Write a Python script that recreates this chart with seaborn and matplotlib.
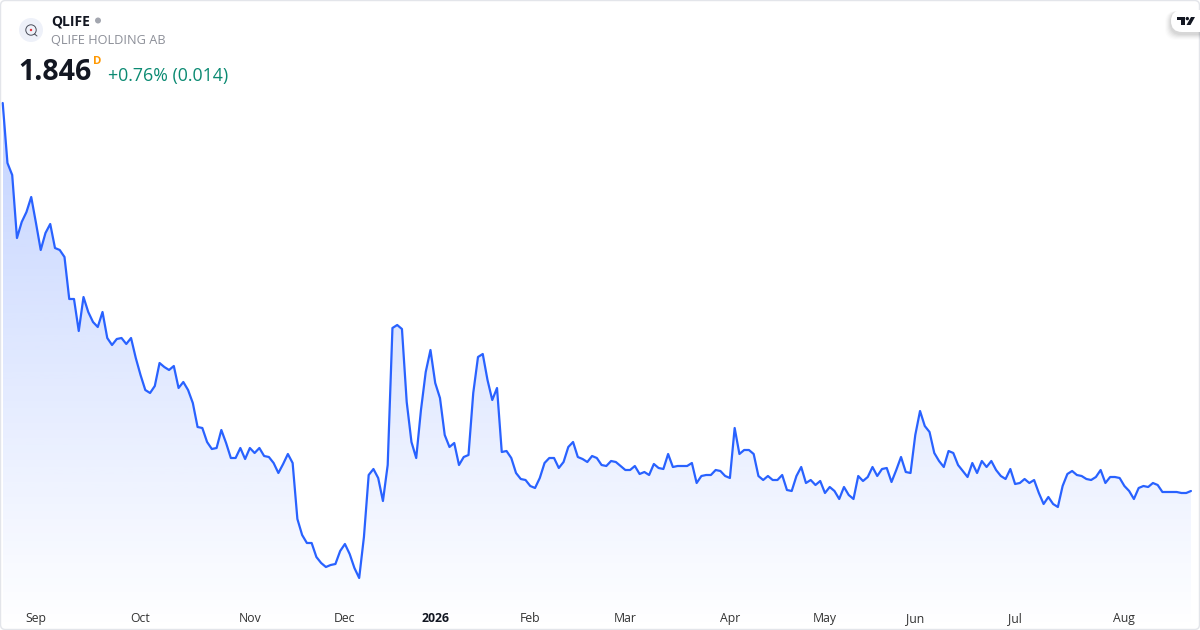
import numpy as np
import pandas as pd
import seaborn as sns
import matplotlib
matplotlib.use("Agg")
import matplotlib.pyplot as plt
from matplotlib.patches import Circle, FancyBboxPatch, Polygon

closes = [
5.726,5.126,5.006,4.376,4.536,4.636,4.786,4.526,4.256,4.426,4.516,4.276,4.256,4.186,3.766,3.766,3.446,3.786,3.636,3.536,
3.486,3.636,3.376,3.306,3.366,3.376,3.316,3.376,3.176,3.006,2.856,2.826,2.896,3.126,3.086,3.056,3.096,2.876,2.936,2.856,
2.726,2.486,2.476,2.336,2.266,2.276,2.456,2.326,2.176,2.176,2.276,2.166,2.276,2.226,2.276,2.196,2.186,2.126,2.026,2.116,
2.216,2.126,1.566,1.406,1.326,1.326,1.186,1.126,1.086,1.106,1.116,1.246,1.316,1.216,1.076,0.976,1.386,2.006,2.066,1.976,
1.746,2.106,3.476,3.506,3.466,2.736,2.336,2.176,2.656,3.036,3.256,2.926,2.776,2.406,2.286,2.326,2.106,2.186,2.206,2.826,
3.186,3.216,2.956,2.756,2.876,2.236,2.246,2.176,2.026,1.966,1.956,1.896,1.876,1.976,2.126,2.176,2.176,2.076,2.136,2.286,
2.336,2.186,2.166,2.136,2.196,2.176,2.106,2.096,2.146,2.136,2.096,2.056,2.056,2.096,2.016,2.036,2.006,2.116,2.076,2.066,
2.216,2.086,2.096,2.096,2.096,2.126,1.926,1.996,2.006,2.006,2.056,2.046,1.996,1.976,2.476,2.216,2.256,2.256,2.216,1.996,
1.956,1.996,1.956,1.956,2.006,1.856,1.846,1.996,2.086,1.926,1.956,1.906,1.946,1.826,1.886,1.846,1.766,1.886,1.806,1.766,
1.996,1.946,1.986,2.086,1.996,2.066,2.076,1.936,2.056,2.186,2.036,2.026,2.406,2.646,2.496,2.436,2.226,2.146,2.086,2.246,
2.226,2.106,2.046,1.986,2.126,2.026,2.146,2.086,2.146,2.056,1.996,1.966,2.066,1.916,1.926,1.966,1.926,1.956,1.826,1.716,
1.786,1.716,1.686,1.896,2.016,2.046,2.006,1.996,1.966,1.956,1.986,2.056,1.926,1.986,1.986,1.976,1.896,1.846,1.766,1.876,
1.896,1.886,1.926,1.906,1.836,1.836,1.836,1.836,1.826,1.826,1.846]
month_labels = ["Sep","Oct","Nov","Dec","2026","Feb","Mar","Apr","May","Jun","Jul","Aug"]
month_bars = [7,29,52,72,91,111,131,153,173,192,213,236]
ticker = "QLIFE"
company = "QLIFE HOLDING AB"
last_price = "1.846"
interval = "D"
change = "+0.76% (0.014)"

BLUE = "#2962FF"
sns.set_theme(style="white")
plt.rcParams["font.family"] = ["Open Sans", "Noto Sans", "DejaVu Sans"]

df = pd.DataFrame({"bar": np.arange(len(closes)), "close": closes})
STEP = 4.753
X0 = 2.7
fig = plt.figure(figsize=(12, 6.3), dpi=100, facecolor="white")
ax = fig.add_axes([0, 0, 1, 1])
ymin, ymax = 6.756 - 6.30, 6.756
ax.set_xlim(-X0 / STEP, (1200 - X0) / STEP)
ax.set_ylim(ymin, ymax)

# gradient area under the line
x = df["bar"].to_numpy()
y = df["close"].to_numpy()
poly = Polygon(np.vstack([[x[0], ymin], np.column_stack([x, y]), [x[-1], ymin]]),
               closed=True, transform=ax.transData, fc="none", ec="none")
ax.add_patch(poly)
rgba = np.ones((256, 1, 4))
rgba[..., :3] = matplotlib.colors.to_rgb(BLUE)
rgba[:, 0, 3] = np.linspace(0.28, 0.0, 256)
im = ax.imshow(rgba, extent=[x[0], x[-1], ymin, y.max()], origin="upper",
               aspect="auto", interpolation="bilinear", zorder=1)
im.set_clip_path(poly)
ax.set_xlim(-X0 / STEP, (1200 - X0) / STEP)
ax.set_ylim(ymin, ymax)

sns.lineplot(data=df, x="bar", y="close", ax=ax, color=BLUE, linewidth=1.6,
             zorder=3, legend=False, errorbar=None)
ax.axis("off")

# month labels on the time scale
tick_y = ymax - 6.185
for bar, lab in zip(month_bars, month_labels):
    ax.text(bar, tick_y, lab, ha="center", va="center", fontsize=8.8,
            color="#131722" if lab == "2026" else "#333333",
            fontweight="bold" if lab == "2026" else "normal", zorder=5)

# overlay in pixel coordinates for header furniture
ov = fig.add_axes([0, 0, 1, 1], facecolor="none")
ov.set_xlim(0, 1200)
ov.set_ylim(630, 0)
ov.axis("off")

ov.add_patch(FancyBboxPatch((0.5, 0.5), 1199, 629, boxstyle="round,pad=0,rounding_size=5",
                            fc="none", ec="#E3E5EA", lw=1.0))
# symbol logo
ov.add_patch(Circle((31, 30), 12, fc="#EEF1F9", ec="none"))
ov.add_patch(Circle((31, 30), 5.2, fc="none", ec="#4A4E5A", lw=0.7))
ov.add_patch(Circle((31, 30), 1.2, fc="#E5323B", ec="none"))
ov.plot([34.5, 37], [34, 36], color="#4A4E5A", lw=0.7)

ov.text(51, 21.5, ticker, fontsize=10.0, fontweight="bold", color="#131722", va="center", ha="left")
ov.add_patch(Circle((98, 20.5), 3, fc="#A3A6AF", ec="none"))
ov.text(51, 41, company, fontsize=9.2, color="#8C8F98", va="center", ha="left")
ov.text(18.5, 73, last_price, fontsize=20.5, fontweight="bold", color="#131722", va="center", ha="left")
ov.text(93, 62, interval, fontsize=8.2, fontweight="bold", color="#FF9800", va="center", ha="left")
ov.text(108, 76, change, fontsize=12.8, color="#0B8A72", va="center", ha="left")

# watermark pill with soft shadow
for i, a in zip(range(6, 0, -1), [0.012, 0.018, 0.025, 0.03, 0.035, 0.04]):
    ov.add_patch(FancyBboxPatch((1171 - i, 10 + 1), 60 + i, 22 + i + 1,
                                boxstyle="round,pad=0,rounding_size=11", fc="black", ec="none", alpha=a))
ov.add_patch(FancyBboxPatch((1171, 10), 60, 22, boxstyle="round,pad=0,rounding_size=11",
                            fc="white", ec="none"))
ov.add_patch(Polygon([(1177, 17), (1184.5, 17), (1184.5, 25), (1181, 25), (1181, 20), (1177, 20)],
                     fc="#131722", ec="none"))
ov.add_patch(Circle((1187.3, 18.6), 1.7, fc="#131722", ec="none"))
ov.add_patch(Polygon([(1191, 17), (1195, 17), (1190.5, 25), (1186.5, 25)], fc="#131722", ec="none"))
ov.set_xlim(0, 1200)
ov.set_ylim(630, 0)

fig.savefig("out.png", dpi=100, facecolor="white")
